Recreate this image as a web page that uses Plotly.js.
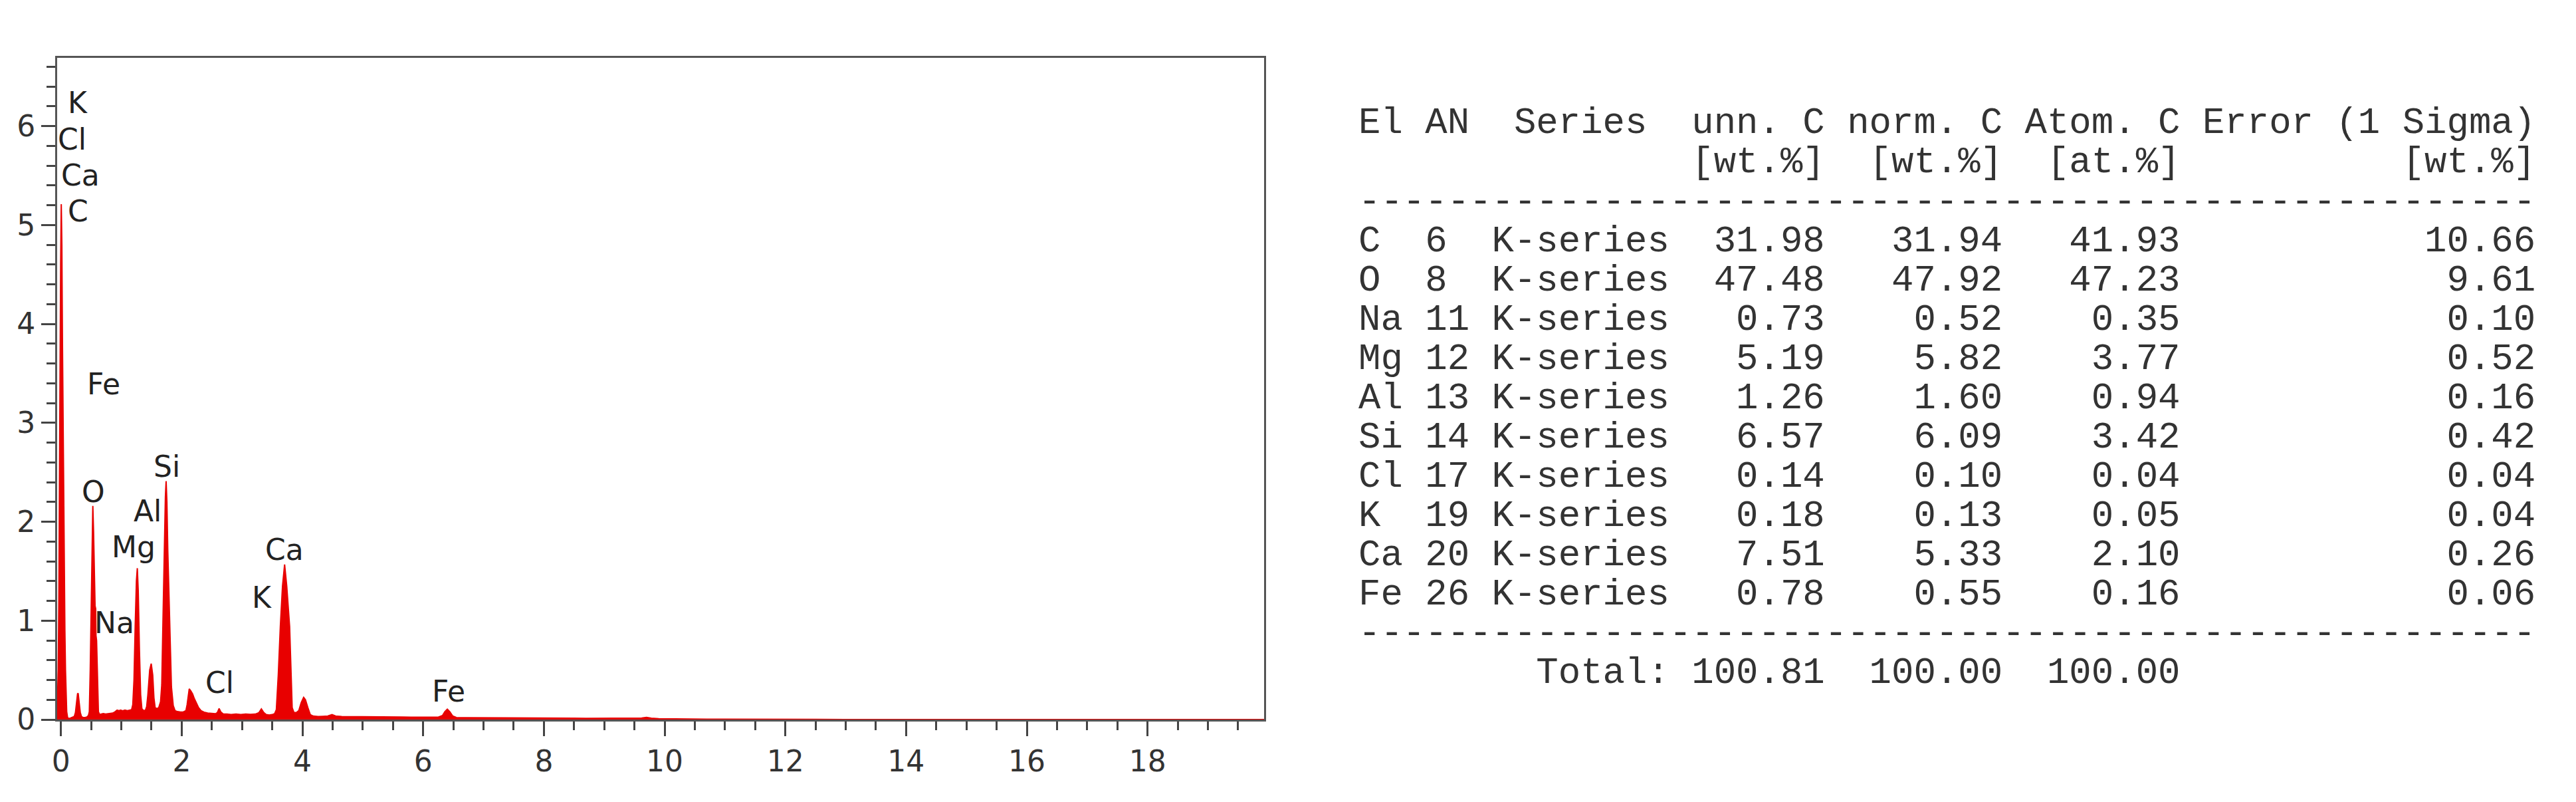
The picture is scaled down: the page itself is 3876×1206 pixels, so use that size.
<!DOCTYPE html>
<html>
<head>
<meta charset="utf-8">
<script src="https://cdn.plot.ly/plotly-3.0.1.min.js"></script>
<style>body{margin:0;background:#fff}</style>
</head>
<body>
<div id="edsChart" style="width:3876px;height:1206px"></div>
<script>
// EDS spectrum (keV / cps per eV)
const energy = [-0.063, -0.055, -0.045, -0.035, -0.025, -0.015, -0.005, 0.005, 0.015, 0.025, 0.035, 0.045, 0.055, 0.065, 0.075, 0.085, 0.095, 0.11,
  0.13, 0.16, 0.19, 0.22, 0.24, 0.26, 0.275, 0.285, 0.30, 0.32, 0.34, 0.37, 0.40, 0.43, 0.455,
  0.47, 0.485, 0.50, 0.515, 0.528, 0.54, 0.552, 0.565, 0.575, 0.58, 0.59, 0.60, 0.61, 0.62, 0.64,
  0.67, 0.70, 0.74, 0.78, 0.82, 0.86, 0.90, 0.93, 0.96, 0.99, 1.02, 1.06, 1.10, 1.14, 1.17,
  1.19, 1.21, 1.23, 1.25, 1.265, 1.28, 1.30, 1.32, 1.34, 1.37, 1.40,
  1.42, 1.44, 1.47, 1.495, 1.52, 1.54, 1.56, 1.59, 1.62,
  1.65, 1.67, 1.69, 1.71, 1.73, 1.742, 1.755, 1.77, 1.79, 1.81, 1.83, 1.86, 1.89, 1.93, 1.98, 2.03,
  2.07, 2.09, 2.11, 2.125, 2.15, 2.18, 2.21, 2.24, 2.28, 2.32, 2.37, 2.43, 2.50, 2.56,
  2.59, 2.62, 2.65, 2.69, 2.75, 2.82, 2.90, 2.98, 3.06, 3.14, 3.22, 3.28, 3.32, 3.36, 3.40, 3.45, 3.50, 3.54,
  3.568, 3.60, 3.634, 3.67, 3.705, 3.74, 3.788, 3.81, 3.83, 3.86, 3.90, 3.94, 3.98, 4.02, 4.05, 4.09, 4.13,
  4.18, 4.26, 4.34, 4.42, 4.49, 4.55, 4.65, 4.78, 4.90, 5.05, 5.20, 5.35, 5.50, 5.65, 5.80, 5.95, 6.10, 6.25,
  6.32, 6.36, 6.40, 6.44, 6.49, 6.55, 6.70, 6.90, 7.10, 7.30, 7.50, 7.70, 7.90, 8.10, 8.30, 8.50, 8.70, 8.90,
  9.10, 9.30, 9.50, 9.62, 9.70, 9.78, 9.90, 10.1, 10.4, 10.7, 11.0, 11.3, 11.6, 11.8, 12.5, 14.0, 19.93];
const counts = [0.05, 0.2, 0.5, 1.2, 2.6, 3.6, 4.6, 5.21, 4.8, 3.8, 3.0, 2.4, 1.5, 0.9, 0.5, 0.3, 0.08, 0.02,
  0.01, 0.015, 0.02, 0.03, 0.07, 0.18, 0.26, 0.265, 0.18, 0.07, 0.03, 0.02, 0.02, 0.025, 0.04,
  0.08, 0.5, 1.2, 1.8, 2.16, 1.9, 1.4, 1.15, 1.12, 0.85, 0.8, 0.5, 0.2, 0.08, 0.05,
  0.055, 0.06, 0.055, 0.06, 0.062, 0.065, 0.08, 0.095, 0.09, 0.095, 0.088, 0.095, 0.09, 0.095, 0.1,
  0.15, 0.4, 0.95, 1.4, 1.53, 1.3, 0.7, 0.25, 0.11, 0.09, 0.095,
  0.13, 0.25, 0.5, 0.565, 0.45, 0.22, 0.12, 0.11, 0.12,
  0.18, 0.35, 1.0, 1.7, 2.25, 2.41, 2.2, 1.7, 1.2, 0.7, 0.33, 0.14, 0.09, 0.08, 0.075, 0.078,
  0.09, 0.15, 0.27, 0.31, 0.29, 0.26, 0.21, 0.17, 0.12, 0.09, 0.075, 0.065, 0.06, 0.058,
  0.07, 0.112, 0.075, 0.055, 0.055, 0.05, 0.055, 0.05, 0.055, 0.052, 0.055, 0.07, 0.107, 0.07, 0.05, 0.045, 0.05, 0.06,
  0.1, 0.45, 0.94, 1.35, 1.567, 1.35, 0.94, 0.45, 0.12, 0.07, 0.07, 0.09, 0.17, 0.224, 0.2, 0.12, 0.05,
  0.035, 0.03, 0.032, 0.035, 0.05, 0.035, 0.03, 0.03, 0.028, 0.027, 0.028, 0.025, 0.026, 0.025, 0.024, 0.024, 0.022, 0.024,
  0.04, 0.08, 0.105, 0.08, 0.035, 0.02, 0.018, 0.018, 0.016, 0.017, 0.015, 0.016, 0.014, 0.015, 0.013, 0.014, 0.012, 0.012,
  0.011, 0.01, 0.01, 0.015, 0.022, 0.014, 0.008, 0.006, 0.005, 0.004, 0.004, 0.003, 0.004, 0.002, 0.001, 0, 0];

// element markers placed on the spectrum
const labelText = ['K', 'Cl', 'Ca', 'C', 'Fe', 'O', 'Na', 'Mg', 'Al', 'Si', 'Ca', 'K', 'Cl', 'Fe'];
const labelEnergy = [0.275, 0.19, 0.317, 0.286, 0.713, 0.539, 0.882, 1.203, 1.434, 1.75, 3.70, 3.327, 2.634, 6.42];
const labelCounts = [6.237, 5.867, 5.504, 5.141, 3.394, 2.30, 0.981, 1.747, 2.11, 2.56, 1.72, 1.237, 0.376, 0.289];

// quantification results
const elements = ['C', 'O', 'Na', 'Mg', 'Al', 'Si', 'Cl', 'K', 'Ca', 'Fe'];
const atomicNumbers = [6, 8, 11, 12, 13, 14, 17, 19, 20, 26];
const lineSeries = ['K-series', 'K-series', 'K-series', 'K-series', 'K-series', 'K-series', 'K-series', 'K-series', 'K-series', 'K-series'];
const unnC = ['31.98', '47.48', '0.73', '5.19', '1.26', '6.57', '0.14', '0.18', '7.51', '0.78'];
const normC = ['31.94', '47.92', '0.52', '5.82', '1.60', '6.09', '0.10', '0.13', '5.33', '0.55'];
const atomC = ['41.93', '47.23', '0.35', '3.77', '0.94', '3.42', '0.04', '0.05', '2.10', '0.16'];
const errorC = ['10.66', '9.61', '0.10', '0.52', '0.16', '0.42', '0.04', '0.04', '0.26', '0.06'];
const totals = ['100.81', '100.00', '100.00'];

const tableLines = [
  'El AN  Series  unn. C norm. C Atom. C Error (1 Sigma)',
  ' '.repeat(15) + '[wt.%]  [wt.%]  [at.%]          [wt.%]',
  '-'.repeat(53)
];
elements.forEach((el, i) => {
  tableLines.push(el.padEnd(2) + ' ' + String(atomicNumbers[i]).padEnd(2) + ' ' + lineSeries[i] +
    unnC[i].padStart(7) + normC[i].padStart(8) + atomC[i].padStart(8) + errorC[i].padStart(16));
});
tableLines.push('-'.repeat(53));
tableLines.push(' '.repeat(8) + 'Total:' + totals[0].padStart(7) + totals[1].padStart(8) + totals[2].padStart(8));

const W = 3876, H = 1206;
const margin = {l: 86, r: 1974, t: 87, b: 124};
const plotW = W - margin.l - margin.r, plotH = H - margin.t - margin.b;

const spectrum = {
  x: energy,
  y: counts,
  type: 'scatter',
  mode: 'lines',
  fill: 'tozeroy',
  fillcolor: '#e80000',
  line: {color: '#e80000', width: 2},
  hoverinfo: 'skip'
};

const annotations = labelText.map((t, i) => ({
  x: labelEnergy[i], y: labelCounts[i], xref: 'x', yref: 'y',
  text: t, showarrow: false, xanchor: 'center', yanchor: 'middle',
  font: {family: 'DejaVu Sans', size: 44, color: '#222'}
}));

annotations.push({
  x: 0.10, y: 6.86, xref: 'x', yref: 'y', text: 'cps/eV', showarrow: false,
  xanchor: 'left', yanchor: 'middle',
  font: {family: 'DejaVu Sans', size: 44, color: '#222'}
});

tableLines.forEach((line, i) => {
  annotations.push({
    x: (2042 - margin.l) / plotW,
    y: (H - margin.b - (186 + i * 59)) / plotH,
    xref: 'paper', yref: 'paper',
    text: line.replace(/ /g, '\u00a0'),
    showarrow: false, xanchor: 'left', yanchor: 'middle',
    font: {family: 'Liberation Mono', size: 55.7, color: '#333'}
  });
});

const layout = {
  width: W, height: H,
  margin: margin,
  showlegend: false,
  paper_bgcolor: '#fff',
  plot_bgcolor: '#fff',
  xaxis: {
    range: [-0.063, 19.93], dtick: 2, tick0: 0,
    ticks: 'outside', ticklen: 22, tickwidth: 3, tickcolor: '#444',
    minor: {dtick: 0.5, tick0: 0, ticks: 'outside', ticklen: 13, tickwidth: 3, tickcolor: '#444'},
    showline: true, linecolor: '#555', linewidth: 3, mirror: true,
    showgrid: false, zeroline: false,
    tickfont: {family: 'DejaVu Sans', size: 44, color: '#333'}
  },
  yaxis: {
    range: [0, 6.69], dtick: 1, tick0: 0,
    ticks: 'outside', ticklen: 21, tickwidth: 3, tickcolor: '#444',
    minor: {dtick: 0.2, tick0: 0, ticks: 'outside', ticklen: 13, tickwidth: 3, tickcolor: '#444'},
    showline: true, linecolor: '#555', linewidth: 3, mirror: true,
    showgrid: false, zeroline: false,
    tickfont: {family: 'DejaVu Sans', size: 44, color: '#333'}
  },
  annotations: annotations
};

Plotly.newPlot('edsChart', [spectrum], layout, {staticPlot: true});
</script>
</body>
</html>
